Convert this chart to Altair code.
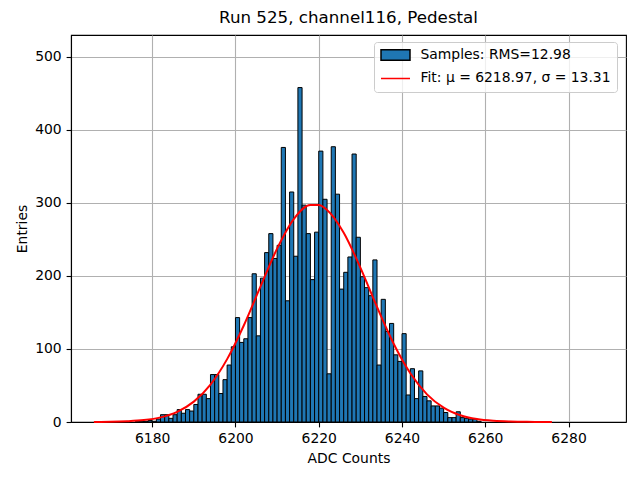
import altair as alt
import pandas as pd

# ---- data ----
bin_left = list(range(6176, 6259))
counts = [1, 1, 1, 2, 1, 4, 10, 10, 5, 10,
          17, 12, 17, 15, 24, 38, 38, 32, 65, 65,
          39, 58, 78, 103, 143, 109, 114, 143, 203, 118,
          197, 232, 258, 224, 242, 376, 166, 315, 227, 458,
          297, 258, 195, 260, 371, 305, 66, 377, 312, 182,
          205, 226, 367, 253, 199, 184, 173, 222, 78, 168,
          124, 135, 92, 83, 121, 37, 73, 32, 70, 35,
          29, 22, 22, 19, 13, 6, 6, 14, 6, 5,
          4, 4, 1]

fit_x = [6166, 6170, 6174, 6178, 6182, 6186, 6190, 6194, 6198, 6202,
         6206, 6210, 6214, 6218, 6220, 6222, 6226, 6230, 6234, 6238,
         6242, 6246, 6250, 6254, 6258, 6262, 6266, 6270, 6274, 6276]
fit_y = [0.1, 0.3, 1.0, 2.6, 6.3, 13.9, 27.9, 51.3, 86.1, 132.2,
         185.4, 237.4, 277.9, 297.2, 297.1, 290.4, 259.2, 211.4, 157.5, 107.2,
         66.7, 37.9, 19.7, 9.3, 4.0, 1.6, 0.6, 0.2, 0.1, 0.0]

sample_label = "Samples: RMS=12.98"
fit_label = "Fit: μ = 6218.97, σ = 13.31"
x_ticks = [6180, 6200, 6220, 6240, 6260, 6280]
y_ticks = [0, 100, 200, 300, 400, 500]

hist = pd.DataFrame({
    "left": bin_left,
    "right": [b + 1 for b in bin_left],
    "count": counts,
    "series": sample_label,
})
fit = pd.DataFrame({"adc": fit_x, "entries": fit_y, "series": fit_label})

font = "DejaVu Sans"
series_domain = [sample_label, fit_label]
xscale = alt.Scale(domain=[6160.5, 6293.8], nice=False, zero=False)
yscale = alt.Scale(domain=[0, 530], nice=False)

is_fit = "indexof(datum.value, 'Fit') === 0"


def make_legend():
    return alt.Legend(
        title=None,
        orient="none",
        legendX=303,
        legendY=7,
        padding=6,
        rowPadding=9.4,
        clipHeight=14,
        labelOffset=9.5,
        labelFont=font,
        labelFontSize=13.9,
        labelColor="black",
        labelLimit=0,
        symbolSize=841,
        symbolType=alt.ExprRef(f"{is_fit} ? 'stroke' : 'M-1,-0.36H1V0.36H-1Z'"),
        symbolStrokeColor="black",
        symbolStrokeWidth=1.5,
        strokeColor="#cccccc",
        fillColor="rgba(255,255,255,0.8)",
        cornerRadius=3,
    )


bars = alt.Chart(hist).mark_rect(stroke="black", strokeWidth=1).encode(
    x=alt.X("left:Q", scale=xscale,
            axis=alt.Axis(values=x_ticks, format="d", title="ADC Counts")),
    x2="right:Q",
    y=alt.Y("count:Q", scale=yscale,
            axis=alt.Axis(values=y_ticks, title="Entries")),
    y2=alt.datum(0),
    fill=alt.Fill("series:N",
                  scale=alt.Scale(domain=series_domain, range=["#1f77b4", "transparent"]),
                  legend=make_legend()),
)

line = alt.Chart(fit).mark_line(interpolate="monotone").encode(
    x=alt.X("adc:Q", scale=xscale),
    y=alt.Y("entries:Q", scale=yscale),
    stroke=alt.Stroke("series:N",
                      scale=alt.Scale(domain=series_domain, range=["black", "red"]),
                      legend=make_legend()),
)

chart = alt.layer(bars, line).properties(
    width=555,
    height=387,
    autosize=alt.AutoSizeParams(type="none"),
    padding={"left": 63, "top": 27, "right": 6, "bottom": 45},
    title=alt.TitleParams("Run 525, channel116, Pedestal", font=font, fontSize=16.7,
                          fontWeight="normal", color="black", offset=8, anchor="middle"),
).configure_view(
    stroke="black", strokeWidth=1.1,
).configure_axis(
    zindex=1,
    grid=True,
    gridColor="#b0b0b0",
    gridWidth=1.1,
    domainColor="black",
    domainWidth=1.1,
    tickColor="black",
    tickWidth=1.1,
    tickSize=4.9,
    labelFont=font,
    labelFontSize=13.9,
    labelColor="black",
    labelPadding=4.9,
    titleFont=font,
    titleFontSize=13.9,
    titleFontWeight="normal",
    titleColor="black",
    titlePadding=5.6,
)

chart.save("out.html", embed_options={"renderer": "svg", "actions": False})
